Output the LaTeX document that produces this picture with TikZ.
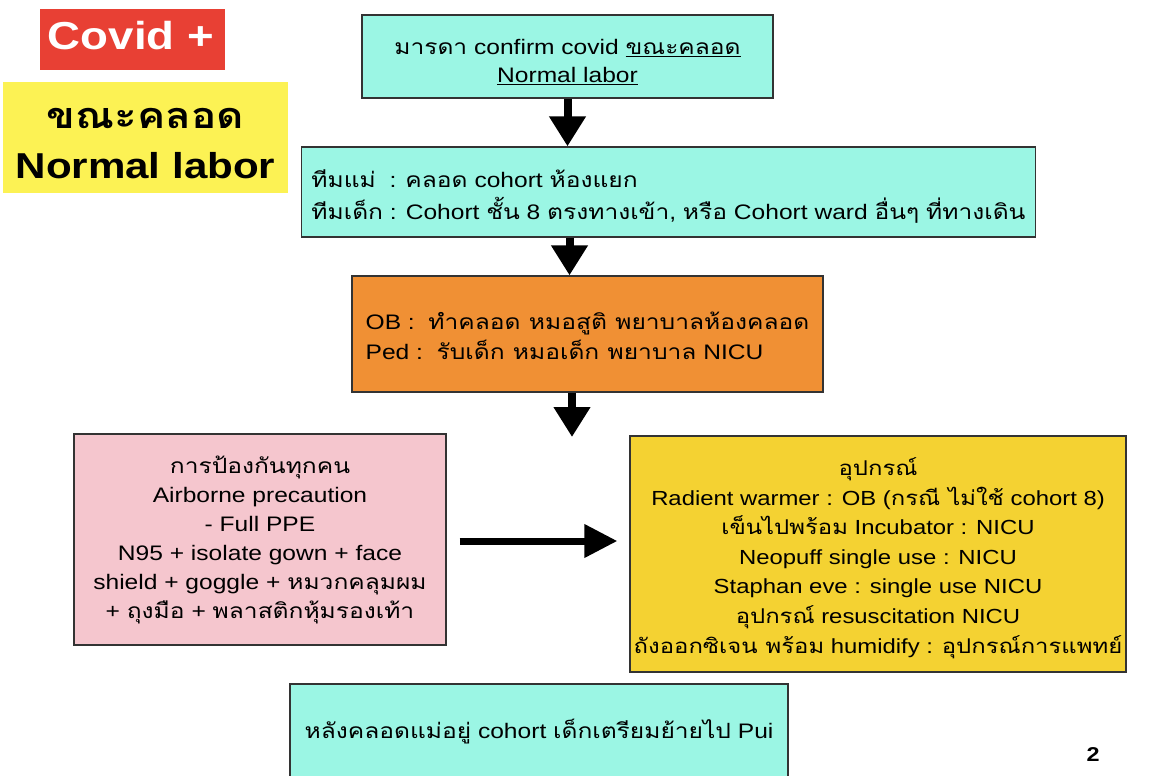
\documentclass[tikz,border=0pt]{standalone}
\usepackage{fontspec}
\usetikzlibrary{arrows.meta}
\setmainfont{Liberation Sans}[FakeStretch=1.17]
\newfontfamily\thaifont[Script=Thai,FakeStretch=1.17]{Loma}
\newcommand{\tha}[1]{{\thaifont #1}}
\newcommand{\topgap}[1]{\rule{0pt}{#1}}
\definecolor{cyanbox}{RGB}{155,246,228}
\definecolor{orangebox}{RGB}{240,144,52}
\definecolor{pinkbox}{RGB}{245,198,206}
\definecolor{yellowbox}{RGB}{244,210,50}
\definecolor{labelyellow}{RGB}{252,242,84}
\definecolor{redlabel}{RGB}{232,64,52}
\tikzset{
  flowbox/.style={draw=black!80, line width=1.3pt, inner xsep=10pt, inner ysep=0pt,
    font=\fontsize{21pt}{29pt}\selectfont},
  bigarrow/.style={line width=8pt, -{Triangle[length=30pt,width=35pt]}},
  sidearrow/.style={line width=7pt, -{Triangle[length=33pt,width=32pt]}},
}
\begin{document}
\begin{tikzpicture}[x=1pt,y=-1pt]
\useasboundingbox (0,0) rectangle (1156,776);
\clip (0,0) rectangle (1156,776);
\fill[white] (0,0) rectangle (1156,776);

% title labels
\node[fill=redlabel, minimum width=185pt, minimum height=61pt, inner sep=0pt] (covidbg) at (132.5,39.5) {};
\node[text=white, inner sep=0pt, font=\fontsize{39pt}{40pt}\selectfont\bfseries] (covid) at (131,36) {Covid +};
\node[fill=labelyellow, minimum width=285pt, minimum height=111pt, inner sep=0pt] (laborbg) at (145.5,137.5) {};
\node[align=center, inner sep=0pt, font=\fontsize{36pt}{50pt}\selectfont\bfseries] (labor) at (145.5,144)
  {\tha{ขณะคลอด}\\Normal labor};

% flow boxes
\node[flowbox, fill=cyanbox, minimum width=411pt, minimum height=83pt, align=center] (b1) at (567.5,56.5)
  {\topgap{26pt}\tha{มารดา} confirm covid \underline{\tha{ขณะคลอด}}\\[-1pt]\underline{Normal labor}};
\node[flowbox, fill=cyanbox, minimum width=733pt, minimum height=90pt, align=left,
  font=\fontsize{21pt}{32pt}\selectfont] (b2) at (668.5,192)
  {\topgap{27pt}\tha{ทีมแม่}\ \ : \tha{คลอด} cohort \tha{ห้องแยก}\\
   \tha{ทีมเด็ก} : Cohort \tha{ชั้น} 8 \tha{ตรงทางเข้า}, \tha{หรือ} Cohort ward \tha{อื่นๆ} \tha{ที่ทางเดิน}};
\node[flowbox, fill=orangebox, minimum width=471pt, minimum height=116pt, align=left,
  font=\fontsize{21pt}{30pt}\selectfont] (b3) at (587.5,334)
  {\topgap{22pt}OB :\ \ \tha{ทำคลอด หมอสูติ พยาบาลห้องคลอด}\\
   Ped :\ \ \tha{รับเด็ก หมอเด็ก พยาบาล} NICU};
\node[flowbox, fill=pinkbox, minimum width=372pt, minimum height=211pt, align=center] (pink) at (260,539.5)
  {\tha{การป้องกันทุกคน}\\
   Airborne precaution\\
   - Full PPE\\
   N95 + isolate gown + face\\
   shield + goggle + \tha{หมวกคลุมผม}\\
   + \tha{ถุงมือ} + \tha{พลาสติกหุ้มรองเท้า}};
\node[flowbox, fill=yellowbox, minimum width=496pt, minimum height=236pt, align=center,
  inner xsep=2pt, font=\fontsize{20.4pt}{29.6pt}\selectfont] (yel) at (878,554)
  {\topgap{26pt}\tha{อุปกรณ์}\\
   Radient warmer : OB (\tha{กรณี ไม่ใช้} cohort 8)\\
   \tha{เข็นไปพร้อม} Incubator : NICU\\
   Neopuff single use : NICU\\
   Staphan eve : single use NICU\\
   \tha{อุปกรณ์} resuscitation NICU\\
   \tha{ถังออกซิเจน พร้อม} humidify : \tha{อุปกรณ์การแพทย์}};
\node[flowbox, fill=cyanbox, minimum width=498pt, minimum height=96pt, align=left] (b5) at (539,732)
  {\tha{หลังคลอดแม่อยู่} cohort \tha{เด็กเตรียมย้ายไป} Pui};

\node[font=\fontsize{20pt}{22pt}\selectfont\bfseries] (page) at (1093,755) {2};

% connectors
\coordinate (a3end) at (572,437);
\draw[bigarrow] (b1.south) -- (b1.south |- b2.north);
\draw[bigarrow] ([xshift=2pt]b1.south |- b2.south) -- ([xshift=2pt]b1.south |- b3.north);
\draw[bigarrow] (a3end |- b3.south) -- (a3end);
\draw[sidearrow] ([xshift=13pt,yshift=-1.5pt]pink.east) -- ([xshift=-12pt,yshift=-1.5pt]pink.east -| yel.west);
\end{tikzpicture}
\end{document}
